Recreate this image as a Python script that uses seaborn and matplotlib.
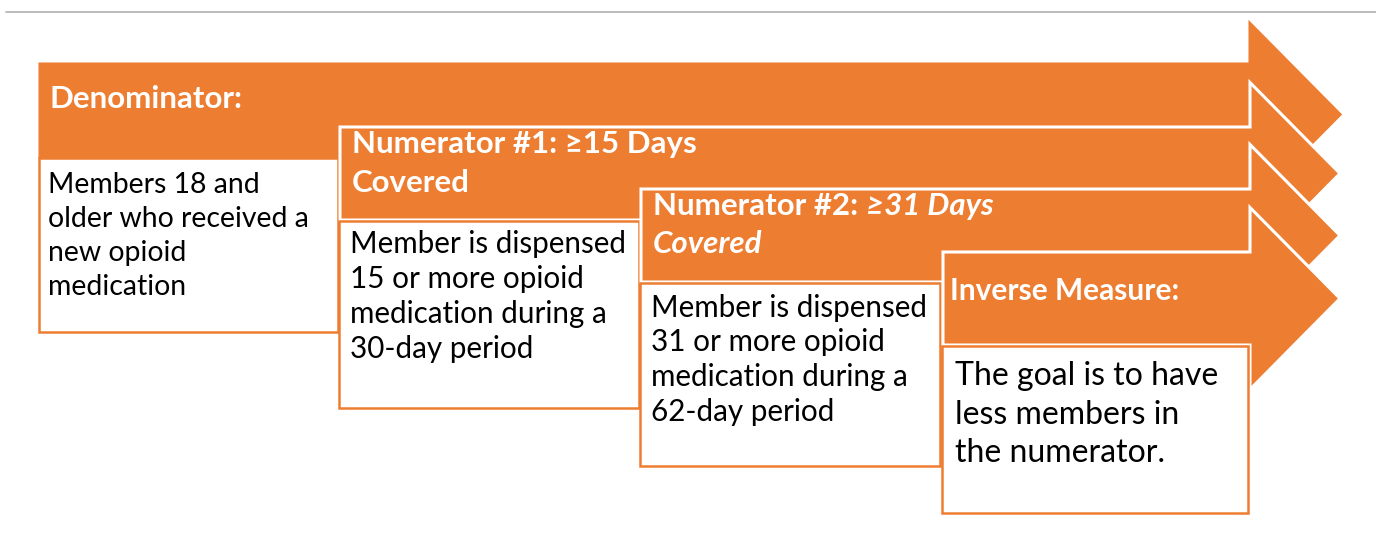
import seaborn as sns
import matplotlib.pyplot as plt
from matplotlib.patches import Polygon, Rectangle

sns.set_theme(style="white")
plt.rcParams['font.family'] = ['Lato', 'DejaVu Sans']

# Steps of the measure, left to right
header_lines = [
    ["Denominator:"],
    ["Numerator #1: \u226515 Days", "Covered"],
    ["Numerator #2: ", "Covered"],
    ["Inverse Measure:"],
]
header_italic = [None, None, "\u226531 Days", None]
body_lines = [
    ["Members 18 and", "older who received a", "new opioid", "medication"],
    ["Member is dispensed", "15 or more opioid", "medication during a", "30-day period"],
    ["Member is dispensed", "31 or more opioid", "medication during a", "62-day period"],
    ["The goal is to have", "less members in", "the numerator."],
]
orange = "#ED7D31"

fig = plt.figure(figsize=(13.76, 5.41), dpi=100)
ax = fig.add_axes([0, 0, 1, 1])
ax.set_xlim(0, 1376)
ax.set_ylim(541, 0)
ax.axis('off')

ax.plot([6, 1376], [12, 12], color="#b0b0b0", lw=1.2)

shaft_left = [40, 340, 641, 943]
shaft_top = [64, 127, 189, 252]
box_bottom = [332, 408, 466, 513]
box_right = [339, 640, 941, 1249]
shaft_h = 93
head_x, tip_x, head_half = 1250, 1340, 91

for i in range(4):
    xl, top = shaft_left[i], shaft_top[i]
    bot = top + shaft_h
    c = top + shaft_h / 2 + (4 if i == 0 else 0)
    pts = [(xl, top), (head_x, top), (head_x, c - head_half), (tip_x, c),
           (head_x, c + head_half), (head_x, bot), (xl, bot)]
    ax.add_patch(Polygon(pts, closed=True, facecolor=orange,
                         edgecolor="white" if i else orange, lw=2.2,
                         joinstyle="miter", zorder=2 + 2 * i))
    ax.add_patch(Rectangle((xl - 1, bot + 1), box_right[i] - xl, box_bottom[i] - bot - 1,
                           facecolor="white", edgecolor=orange, lw=1.8,
                           zorder=3 + 2 * i))

# header texts (baselines)
hx = [50, 352, 653, 950]
hy = [108, 153, 215, 300]
hgap = [0, 39, 38, 0]
hsize = [22.5, 22.5, 22.5, 21.5]
for i in range(4):
    for j, line in enumerate(header_lines[i]):
        italic = header_italic[i] is not None and j > 0
        t = ax.text(hx[i], hy[i] + j * hgap[i], line, color="white",
                    fontsize=hsize[i], fontweight="bold",
                    fontstyle="italic" if italic else "normal",
                    va="baseline", zorder=20)
        if j == 0 and header_italic[i]:
            fig.canvas.draw()
            bb = t.get_window_extent(fig.canvas.get_renderer())
            x_end = ax.transData.inverted().transform((bb.x1, bb.y0))[0]
            ax.text(x_end, hy[i], header_italic[i], color="white", fontsize=hsize[i],
                    fontweight="bold", fontstyle="italic", va="baseline", zorder=20)

# body texts (baselines)
bx = [48, 350, 651, 955]
by = [193, 253, 317, 385]
bgap = [34, 35, 34.5, 38.5]
bsize = [20.4, 21.3, 21.3, 23]
for i in range(4):
    for j, line in enumerate(body_lines[i]):
        ax.text(bx[i], by[i] + j * bgap[i], line, color="black",
                fontsize=bsize[i], va="baseline", zorder=20)

fig.savefig("out.png", dpi=100, facecolor="white")
